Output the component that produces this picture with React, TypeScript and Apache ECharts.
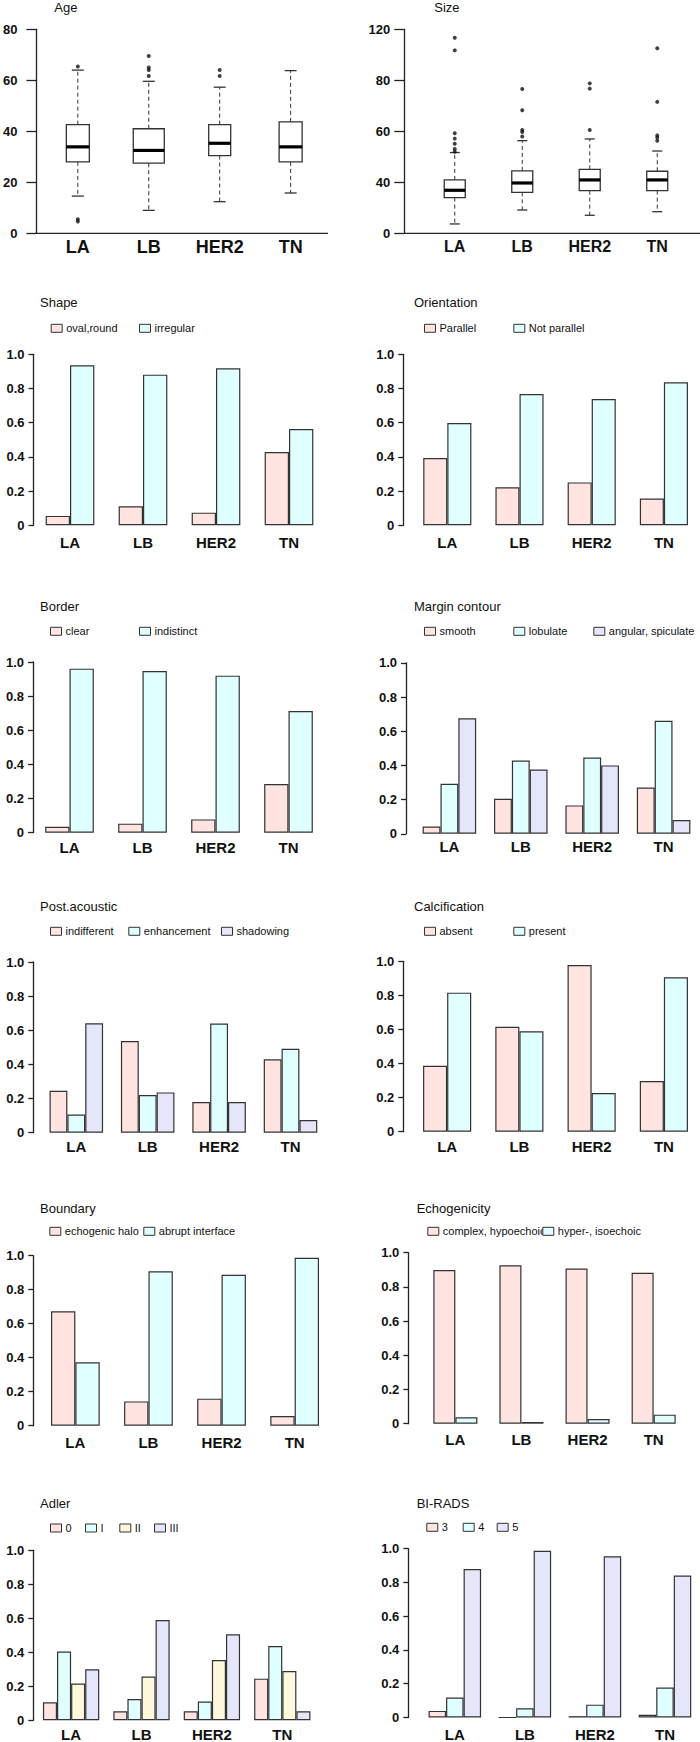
import React, { useEffect, useRef } from 'react';
import * as echarts from 'echarts';

const FONT = 'Liberation Sans, Arial, Helvetica, sans-serif';
const CATEGORIES = ['LA', 'LB', 'HER2', 'TN'];

// Boxplots: [lower whisker, Q1, median, Q3, upper whisker]
const AGE_STATS = [
  [14.6, 28.0, 33.9, 42.6, 64.0],
  [9.0, 27.5, 32.5, 41.0, 59.6],
  [12.4, 30.5, 35.3, 42.6, 57.3],
  [15.8, 28.0, 33.9, 43.7, 63.8],
];
const AGE_OUTLIERS = [[65.4, 5.5, 4.6], [69.5, 65.0, 64.0, 61.7], [64.0, 61.7], []];
const AGE_TICKS = ['0', '20', '40', '60', '80'];

const SIZE_STATS = [
  [5.5, 21.0, 25.3, 31.4, 47.5],
  [13.7, 24.1, 29.6, 36.7, 54.5],
  [10.6, 25.1, 31.4, 37.6, 55.5],
  [12.7, 25.1, 31.4, 36.5, 48.4],
];
const SIZE_OUTLIERS = [
  [115, 107.6, 58.8, 55.7, 52.7, 49.6, 48.0],
  [84.9, 72.4, 60.8, 59.6, 56.9],
  [88.2, 85.1, 60.8],
  [108.8, 77.3, 57.6, 56.3, 54.5],
];
const SIZE_TICKS = ['0', '40', '60', '80', '120'];

// Proportion bars
const SHAPE_NAMES = ['oval,round', 'irregular'];
const SHAPE_OVAL = [0.055, 0.111, 0.074, 0.429];
const SHAPE_IRREGULAR = [0.936, 0.881, 0.918, 0.563];

const ORIENT_NAMES = ['Parallel', 'Not parallel'];
const ORIENT_PARALLEL = [0.394, 0.222, 0.251, 0.156];
const ORIENT_NOT = [0.598, 0.768, 0.739, 0.836];

const BORDER_NAMES = ['clear', 'indistinct'];
const BORDER_CLEAR = [0.035, 0.053, 0.078, 0.285];
const BORDER_INDISTINCT = [0.961, 0.947, 0.92, 0.713];

const MARGIN_NAMES = ['smooth', 'lobulate', 'angular, spiculate'];
const MARGIN_SMOOTH = [0.043, 0.205, 0.166, 0.271];
const MARGIN_LOBULATE = [0.292, 0.429, 0.446, 0.661];
const MARGIN_ANGULAR = [0.676, 0.376, 0.4, 0.08];

const POST_NAMES = ['indifferent', 'enhancement', 'shadowing'];
const POST_INDIFF = [0.246, 0.537, 0.18, 0.43];
const POST_ENH = [0.107, 0.221, 0.639, 0.492];
const POST_SHADOW = [0.641, 0.236, 0.18, 0.074];

const CALC_NAMES = ['absent', 'present'];
const CALC_ABSENT = [0.387, 0.616, 0.978, 0.297];
const CALC_PRESENT = [0.816, 0.589, 0.227, 0.906];

const BOUND_NAMES = ['echogenic halo', 'abrupt interface'];
const BOUND_HALO = [0.673, 0.143, 0.159, 0.057];
const BOUND_ABRUPT = [0.373, 0.908, 0.888, 0.988];

const ECHO_NAMES = ['complex, hypoechoic', 'hyper-, isoechoic'];
const ECHO_COMPLEX = [0.899, 0.926, 0.908, 0.883];
const ECHO_HYPER = [0.037, 0.01, 0.027, 0.053];

const ADLER_NAMES = ['0', 'I', 'II', 'III'];
const ADLER_0 = [0.106, 0.053, 0.053, 0.245];
const ADLER_I = [0.404, 0.125, 0.11, 0.437];
const ADLER_II = [0.216, 0.257, 0.355, 0.29];
const ADLER_III = [0.3, 0.59, 0.506, 0.053];

const BIRADS_NAMES = ['3', '4', '5'];
const BIRADS_3 = [0.039, 0.0, 0.008, 0.016];
const BIRADS_4 = [0.118, 0.055, 0.076, 0.178];
const BIRADS_5 = [0.88, 0.988, 0.955, 0.841];

const PINK = '#FFE4E1';
const CYAN = '#E0FFFF';
const LAV = '#E6E6FA';
const SILK = '#FFF8DC';
const INK = '#111111';
const EDGE = '#333333';

// layout of the bar panels (positions only)
const BAR_PANELS = [
  { title: 'Shape', tx: 40, ty: 303, names: SHAPE_NAMES, data: [SHAPE_OVAL, SHAPE_IRREGULAR], colors: [PINK, CYAN], lx: [50.7, 139], ly: 329.3, left: 33.5, top: 354.3, width: 292, height: 171, offset: 0, margin: 10 },
  { title: 'Orientation', tx: 414, ty: 303, names: ORIENT_NAMES, data: [ORIENT_PARALLEL, ORIENT_NOT], colors: [PINK, CYAN], lx: [424, 513.3], ly: 329.3, left: 411.2, top: 354.3, width: 292, height: 171, offset: 7.9, margin: 10 },
  { title: 'Border', tx: 40, ty: 607.3, names: BORDER_NAMES, data: [BORDER_CLEAR, BORDER_INDISTINCT], colors: [PINK, CYAN], lx: [50, 139], ly: 632.3, left: 33, top: 662, width: 292, height: 170.7, offset: 0, margin: 7.5 },
  { title: 'Margin contour', tx: 414, ty: 607.3, names: MARGIN_NAMES, data: [MARGIN_SMOOTH, MARGIN_LOBULATE, MARGIN_ANGULAR], colors: [PINK, CYAN, LAV], lx: [424, 513.3, 593.3], ly: 632.3, left: 413.7, top: 662.8, width: 285.6, height: 171, offset: 7.7, margin: 5 },
  { title: 'Post.acoustic', tx: 40, ty: 907.3, names: POST_NAMES, data: [POST_INDIFF, POST_ENH, POST_SHADOW], colors: [PINK, CYAN, LAV], lx: [50, 128.3, 221], ly: 932.3, left: 40.6, top: 962, width: 285.6, height: 170.7, offset: 7.3, margin: 6.5 },
  { title: 'Calcification', tx: 414, ty: 907.3, names: CALC_NAMES, data: [CALC_ABSENT, CALC_PRESENT], colors: [PINK, CYAN], lx: [424, 513.3], ly: 932.3, left: 411, top: 961.3, width: 292, height: 170.4, offset: 7.7, margin: 7.5 },
  { title: 'Boundary', tx: 40, ty: 1209, names: BOUND_NAMES, data: [BOUND_HALO, BOUND_ABRUPT], colors: [PINK, CYAN], lx: [49.3, 143.3], ly: 1232.3, left: 38.8, top: 1255.7, width: 292.4, height: 170, offset: 5.5, margin: 9 },
  { title: 'Echogenicity', tx: 416.7, ty: 1209, names: ECHO_NAMES, data: [ECHO_COMPLEX, ECHO_HYPER], colors: [PINK, CYAN], lx: [427.3, 542.3], ly: 1232.3, left: 422.3, top: 1252.7, width: 264.4, height: 171, offset: 14, margin: 8 },
  { title: 'Adler', tx: 40, ty: 1504.3, names: ADLER_NAMES, data: [ADLER_0, ADLER_I, ADLER_II, ADLER_III], colors: [PINK, CYAN, SILK, LAV], lx: [50, 85, 119.3, 154], ly: 1529, left: 35.9, top: 1550.3, width: 281.6, height: 170, offset: 2.6, margin: 6.5 },
  { title: 'BI-RADS', tx: 416.7, ty: 1504.3, names: BIRADS_NAMES, data: [BIRADS_3, BIRADS_4, BIRADS_5], colors: [PINK, CYAN, LAV], lx: [426.3, 462.7, 496.7], ly: 1528.3, left: 419.8, top: 1548.7, width: 285.6, height: 170, offset: 11.5, margin: 9.5 },
];

const BOX_PANELS = [
  { title: 'Age', tx: 54.3, ty: 8.3, stats: AGE_STATS, outliers: AGE_OUTLIERS, ticks: AGE_TICKS, max: 80, interval: 20, boxW: [23, 31, 22, 23], capW: 12, left: 40.9, width: 285.2, offset: 5.9, labelMargin: 19, xFont: 18, axisX1: 35, axisX2: 328 },
  { title: 'Size', tx: 434.3, ty: 7.5, stats: SIZE_STATS, outliers: SIZE_OUTLIERS, ticks: SIZE_TICKS, max: 120, interval: 30, boxW: [21, 21, 21, 21], capW: 10, left: 421, width: 270, offset: 16.7, labelMargin: 14, xFont: 16, axisX1: 404.3, axisX2: 700 },
];
const BOX_TOP = 29.3;
const BOX_HEIGHT = 204;

function buildOption() {
  const title: any[] = [];
  const legend: any[] = [];
  const grid: any[] = [];
  const xAxis: any[] = [];
  const yAxis: any[] = [];
  const series: any[] = [];
  const graphic: any[] = [];

  const axisLineStyle = { color: '#222', width: 1.3 };

  BOX_PANELS.forEach((p) => {
    const g = grid.length;
    title.push({ text: p.title, left: p.tx, top: p.ty - 7, padding: 0, textStyle: { fontSize: 13, fontWeight: 'normal', color: INK, fontFamily: FONT } });
    grid.push({ left: p.left, top: BOX_TOP, width: p.width, height: BOX_HEIGHT });
    xAxis.push({
      type: 'category', gridIndex: g, data: CATEGORIES, boundaryGap: true,
      axisLine: { show: false }, axisTick: { show: false },
      axisLabel: { fontSize: p.xFont, fontWeight: 'bold', color: INK, fontFamily: FONT, margin: 5 },
    });
    yAxis.push({
      type: 'value', gridIndex: g, min: 0, max: p.max, interval: p.interval, offset: p.offset,
      axisLine: { show: true, lineStyle: axisLineStyle },
      axisTick: { show: true, length: 10, lineStyle: axisLineStyle },
      splitLine: { show: false },
      axisLabel: {
        fontSize: 13, fontWeight: 'bold', color: INK, fontFamily: FONT, margin: p.labelMargin,
        formatter: (v: number) => p.ticks[Math.round(v / p.interval)] ?? '',
      },
    });
    const boxW = p.boxW;
    const capW = p.capW;
    series.push({
      type: 'custom', xAxisIndex: g, yAxisIndex: g, z: 2,
      encode: { x: 0, y: [1, 2, 3, 4, 5] },
      data: p.stats.map((s, i) => [i, ...s]),
      renderItem: (params: any, api: any) => {
        const idx = api.value(0);
        const lo = api.coord([idx, api.value(1)]);
        const q1 = api.coord([idx, api.value(2)]);
        const md = api.coord([idx, api.value(3)]);
        const q3 = api.coord([idx, api.value(4)]);
        const hi = api.coord([idx, api.value(5)]);
        const cx = lo[0];
        const bw = boxW[params.dataIndex] / 2;
        const cw = capW / 2;
        const dash = { stroke: EDGE, lineWidth: 1, lineDash: [4, 3] };
        const solid = { stroke: EDGE, lineWidth: 1.3 };
        return {
          type: 'group',
          children: [
            { type: 'line', shape: { x1: cx, y1: q3[1], x2: cx, y2: hi[1] }, style: dash },
            { type: 'line', shape: { x1: cx, y1: q1[1], x2: cx, y2: lo[1] }, style: dash },
            { type: 'line', shape: { x1: cx - cw, y1: hi[1], x2: cx + cw, y2: hi[1] }, style: solid },
            { type: 'line', shape: { x1: cx - cw, y1: lo[1], x2: cx + cw, y2: lo[1] }, style: solid },
            { type: 'rect', shape: { x: cx - bw, y: q3[1], width: bw * 2, height: q1[1] - q3[1] }, style: { fill: '#ffffff', stroke: EDGE, lineWidth: 1.3 } },
            { type: 'line', shape: { x1: cx - bw, y1: md[1], x2: cx + bw, y2: md[1] }, style: { stroke: '#000', lineWidth: 3.2 } },
          ],
        };
      },
    });
    series.push({
      type: 'scatter', xAxisIndex: g, yAxisIndex: g, z: 3,
      symbol: 'circle', symbolSize: 4, itemStyle: { color: '#111' },
      data: p.outliers.flatMap((arr, i) => arr.map((v) => [CATEGORIES[i], v])),
    });
    graphic.push({ type: 'line', shape: { x1: p.axisX1, y1: BOX_TOP + BOX_HEIGHT, x2: p.axisX2, y2: BOX_TOP + BOX_HEIGHT }, style: { stroke: '#222', lineWidth: 1.3 } });
  });

  BAR_PANELS.forEach((p) => {
    const g = grid.length;
    const n = p.names.length;
    const gap = `${(100 / (n + 1)).toFixed(2)}%`;
    title.push({ text: p.title, left: p.tx, top: p.ty - 7, padding: 0, textStyle: { fontSize: 13, fontWeight: 'normal', color: INK, fontFamily: FONT } });
    p.names.forEach((name, k) => {
      legend.push({
        left: p.lx[k], top: p.ly - 6.5, padding: 0, orient: 'horizontal',
        itemWidth: 11, itemHeight: 8, icon: 'rect', selectedMode: false,
        data: [name],
        itemStyle: { borderColor: EDGE, borderWidth: 1 },
        textStyle: { fontSize: 11, color: INK, fontFamily: FONT, padding: [0, 0, 0, -1] },
      });
    });
    grid.push({ left: p.left, top: p.top, width: p.width, height: p.height });
    xAxis.push({
      type: 'category', gridIndex: g, data: CATEGORIES,
      axisLine: { show: false }, axisTick: { show: false },
      axisLabel: { fontSize: 15, fontWeight: 'bold', color: INK, fontFamily: FONT, margin: p.margin },
    });
    yAxis.push({
      type: 'value', gridIndex: g, min: 0, max: 1, interval: 0.2, offset: p.offset,
      axisLine: { show: true, lineStyle: axisLineStyle },
      axisTick: { show: true, length: 5, lineStyle: axisLineStyle },
      splitLine: { show: false },
      axisLabel: {
        fontSize: 13, fontWeight: 'bold', color: INK, fontFamily: FONT, margin: 9,
        formatter: (v: number) => (v === 0 ? '0' : v.toFixed(1)),
      },
    });
    p.names.forEach((name, k) => {
      series.push({
        type: 'bar', name, xAxisIndex: g, yAxisIndex: g,
        data: p.data[k], barGap: '0%', barCategoryGap: gap,
        itemStyle: { color: p.colors[k], borderColor: EDGE, borderWidth: 1.2 },
      });
    });
  });

  return { animation: false, backgroundColor: '#ffffff', title, legend, grid, xAxis, yAxis, series, graphic };
}

export default function App() {
  const ref = useRef<HTMLDivElement>(null);
  useEffect(() => {
    document.body.style.margin = '0';
    if (!ref.current) return;
    const chart = echarts.init(ref.current, undefined, { renderer: 'svg' });
    chart.setOption(buildOption() as any);
    return () => chart.dispose();
  }, []);
  return <div ref={ref} style={{ width: 700, height: 1742, position: 'absolute', left: 0, top: 0 }} />;
}
